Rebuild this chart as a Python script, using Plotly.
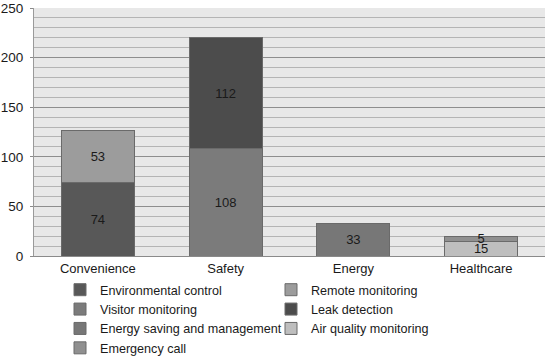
import plotly.graph_objects as go

categories = ["Convenience", "Safety", "Energy", "Healthcare"]
series_names = ["Environmental control", "Remote monitoring", "Visitor monitoring",
                "Leak detection", "Energy saving and management",
                "Air quality monitoring", "Emergency call"]
environmental_control = [74, None, None, None]
remote_monitoring = [53, None, None, None]
visitor_monitoring = [None, 108, None, None]
leak_detection = [None, 112, None, None]
energy_saving = [None, None, 33, None]
air_quality = [None, None, None, 15]
emergency_call = [None, None, None, 5]
series_values = [environmental_control, remote_monitoring, visitor_monitoring,
                 leak_detection, energy_saving, air_quality, emergency_call]
colors = ["#585858", "#9c9c9c", "#7b7b7b", "#4c4c4c", "#777777", "#bebebe", "#909090"]
y_ticks = [0, 50, 100, 150, 200, 250]

FONT = "Liberation Sans, Arial, sans-serif"
fig = go.Figure()
for name, vals, col in zip(series_names, series_values, colors):
    fig.add_trace(go.Bar(
        x=categories, y=vals, name=name,
        marker=dict(color=col, line=dict(color="#6a6a6a", width=1)),
        text=[str(v) if v is not None else "" for v in vals],
        textposition="inside", insidetextanchor="middle", textangle=0,
        textfont=dict(size=13, color="#1a1a1a", family=FONT),
    ))

fig.update_layout(
    barmode="stack", bargap=0.43,
    width=550, height=361,
    margin=dict(l=34, r=5, t=8, b=105, autoexpand=False),
    paper_bgcolor="white", plot_bgcolor="#e8e8e8",
    font=dict(family=FONT, size=13, color="#1a1a1a"),
    uniformtext=dict(mode="show", minsize=13),
    showlegend=True,
    legend=dict(orientation="h", xref="container", x=60 / 550, xanchor="left",
                yref="container", y=1 - 275 / 361, yanchor="top",
                entrywidth=166, entrywidthmode="pixels", itemwidth=30,
                traceorder="normal", bgcolor="rgba(0,0,0,0)",
                font=dict(size=12.6, family=FONT, color="#1a1a1a")),
    xaxis=dict(showline=True, linecolor="#8a8a8a", linewidth=1, ticks="",
               tickfont=dict(size=13), showgrid=False),
    yaxis=dict(range=[0, 250], tickvals=y_ticks, showline=True, linecolor="#9a9a9a",
               ticks="outside", ticklen=3, tickcolor="#8a8a8a", ticklabelstandoff=4,
               showgrid=True, gridcolor="#8e8e8e", gridwidth=1,
               minor=dict(dtick=10, showgrid=True, gridcolor="#b4b4b4", gridwidth=1),
               tickfont=dict(size=13.5), zeroline=False),
)
fig.write_html("out.html", config={"displayModeBar": False},
               post_script="document.body.style.margin='0';")
